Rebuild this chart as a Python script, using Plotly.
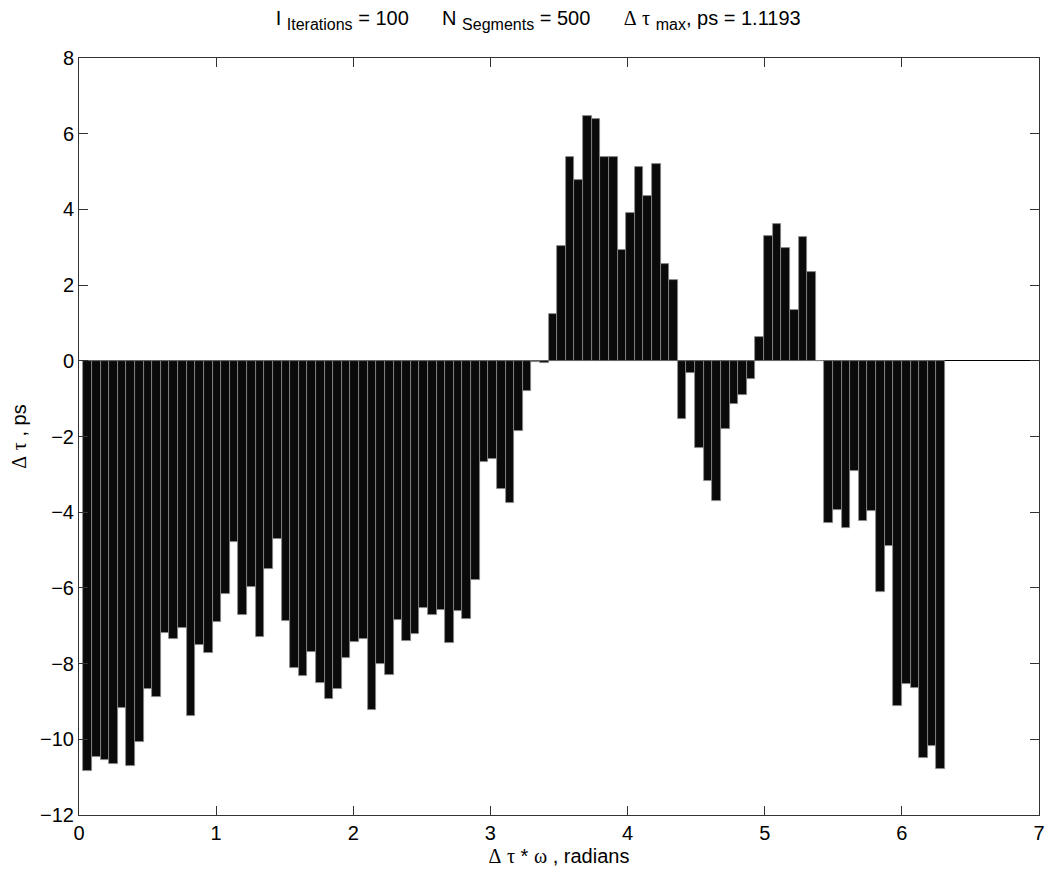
import numpy as np
import plotly.graph_objects as go

n_bins = 100
bin_index = list(range(1, n_bins + 1))
delta_tau = [
    -10.84, -10.48, -10.54, -10.64, -9.17, -10.70, -10.07, -8.67, -8.89, -7.20,
    -7.34, -7.07, -9.38, -7.50, -7.72, -6.90, -6.17, -4.78, -6.72, -5.98,
    -7.31, -5.51, -4.72, -6.88, -8.11, -8.33, -7.70, -8.51, -8.93, -8.68,
    -7.86, -7.43, -7.35, -9.23, -8.02, -8.30, -6.85, -7.40, -7.21, -6.52,
    -6.72, -6.58, -7.46, -6.61, -6.82, -5.78, -2.68, -2.60, -3.38, -3.75,
    -1.85, -0.80, -0.04, -0.05, 1.24, 3.04, 5.39, 4.79, 6.48, 6.39,
    5.39, 5.39, 2.93, 3.91, 5.12, 4.35, 5.20, 2.55, 2.14, -1.54,
    -0.31, -2.30, -3.18, -3.71, -1.79, -1.13, -0.91, -0.47, 0.63, 3.31,
    3.61, 2.98, 1.33, 3.26, 2.35, 0.0, -4.29, -3.94, -4.43, -2.90,
    -4.23, -3.97, -6.12, -4.89, -9.12, -8.55, -8.65, -10.50, -10.18, -10.78,
]
x_ticks = [0, 1, 2, 3, 4, 5, 6, 7]
y_ticks = [8, 6, 4, 2, 0, -2, -4, -6, -8, -10, -12]

step = 2 * np.pi / n_bins
x_pos = [k * step for k in bin_index]

FONT = "Liberation Sans, Arial, sans-serif"
SERIF = "font-family:'Liberation Serif','DejaVu Serif',serif"


def g(ch):
    return f"<span style=\"{SERIF}\">{ch}</span>"


def sub(t):
    return f"<sub><span style=\"font-size:16px\">{t}</span></sub>"


title_text = (
    f"I {sub('Iterations')} = 100      N {sub('Segments')} = 500      "
    f"{g('Δ')} {g('τ')} {sub('max')}, ps = 1.1193"
)
xtitle_text = f"{g('Δ')} {g('τ')} * {g('ω')} , radians"
ytitle_text = f"{g('Δ')} {g('τ')} , ps"

fig = go.Figure(
    go.Bar(
        x=x_pos,
        y=delta_tau,
        width=step,
        marker=dict(color="#0a0a0a", line=dict(color="#8a8a8a", width=0.8)),
        showlegend=False,
    )
)

axis_common = dict(
    showline=True, mirror="ticks", linecolor="#333", linewidth=1,
    ticks="inside", ticklen=9, tickcolor="#333", showgrid=False,
    tickfont=dict(family=FONT, size=20, color="black"),
    ticklabeloverflow="allow", automargin=False,
)

fig.update_layout(
    width=1045, height=878,
    margin=dict(l=79, r=6, t=58, b=63),
    paper_bgcolor="white", plot_bgcolor="white",
    bargap=0,
    title=dict(
        text=title_text,
        x=0.515, xanchor="center", y=0.979, yanchor="middle",
        font=dict(family=FONT, size=20, color="black"),
        automargin=False,
    ),
    xaxis=dict(
        range=[0, 7], tickvals=x_ticks, zeroline=False,
        title=dict(text=xtitle_text, standoff=5,
                   font=dict(family=FONT, size=20, color="black")),
        **axis_common,
    ),
    yaxis=dict(
        range=[-12, 8], tickvals=y_ticks,
        zeroline=True, zerolinecolor="black", zerolinewidth=1,
        title=dict(text=ytitle_text, standoff=8,
                   font=dict(family=FONT, size=20, color="black")),
        **axis_common,
    ),
)

fig.write_html("out.html")
